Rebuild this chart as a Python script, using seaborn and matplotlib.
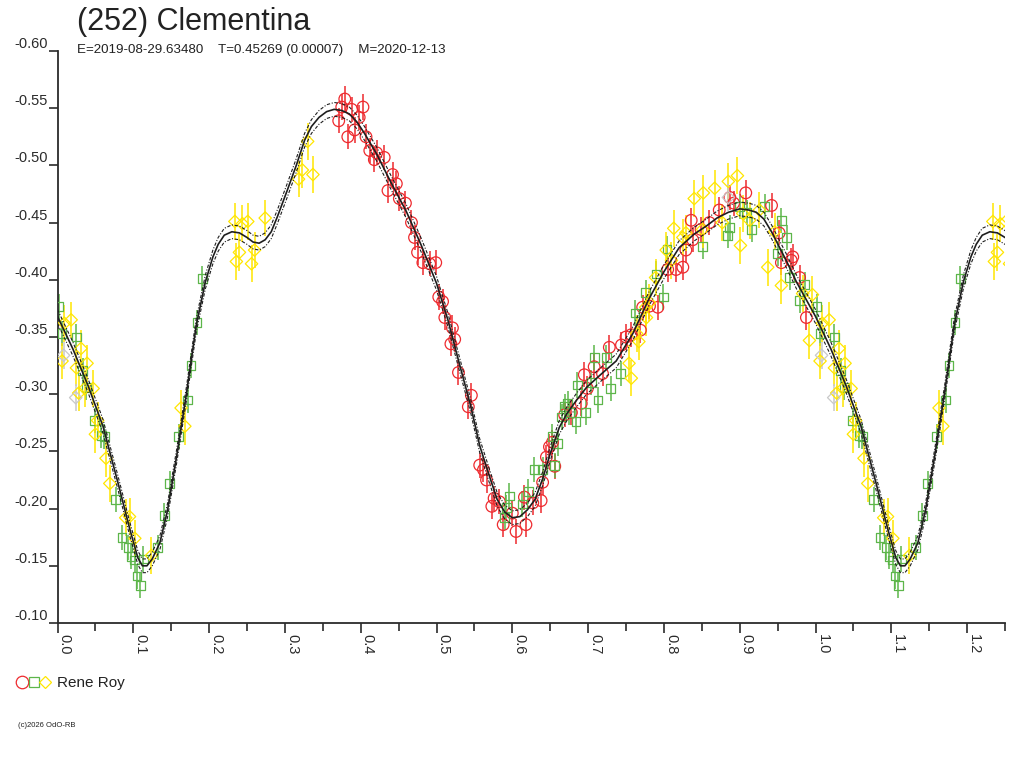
import numpy as np
import pandas as pd
import seaborn as sns
import matplotlib.pyplot as plt
from matplotlib.lines import Line2D
from matplotlib.legend_handler import HandlerTuple

titulo = "(252) Clementina"
subtitulo = "E=2019-08-29.63480    T=0.45269 (0.00007)    M=2020-12-13"
observador = "Rene Roy"
copyright_txt = "(c)2026 OdO-RB"

# curva de Fourier ajustada (fase 0..1)
fit_fase = [0.000, 0.020, 0.040, 0.060, 0.080, 0.095, 0.106, 0.112, 0.118, 0.125,
            0.135, 0.145, 0.157, 0.170, 0.183, 0.195, 0.205, 0.212, 0.220, 0.230,
            0.240, 0.250, 0.258, 0.266, 0.274, 0.282, 0.290, 0.303, 0.315, 0.326,
            0.335, 0.345, 0.355, 0.365, 0.375, 0.385, 0.395, 0.405, 0.421, 0.440,
            0.460, 0.480, 0.500, 0.515, 0.528, 0.545, 0.557, 0.570, 0.580, 0.590,
            0.600, 0.610, 0.620, 0.630, 0.640, 0.650, 0.662, 0.672, 0.685, 0.698,
            0.718, 0.737, 0.759, 0.780, 0.800, 0.820, 0.840, 0.856, 0.870, 0.885,
            0.900, 0.912, 0.922, 0.932, 0.942, 0.952, 0.962, 0.975, 0.990]
fit_mag = [-0.368, -0.340, -0.308, -0.272, -0.222, -0.183, -0.157, -0.150, -0.150, -0.156,
           -0.170, -0.198, -0.245, -0.300, -0.360, -0.398, -0.420, -0.431, -0.439, -0.442,
           -0.441, -0.437, -0.433, -0.432, -0.435, -0.442, -0.455, -0.478, -0.500, -0.522,
           -0.534, -0.542, -0.547, -0.549, -0.548, -0.545, -0.538, -0.528, -0.510, -0.485,
           -0.460, -0.430, -0.397, -0.365, -0.332, -0.290, -0.255, -0.228, -0.208, -0.197,
           -0.192, -0.193, -0.199, -0.208, -0.226, -0.248, -0.271, -0.283, -0.295, -0.306,
           -0.318, -0.329, -0.353, -0.383, -0.407, -0.428, -0.440, -0.447, -0.454, -0.459,
           -0.462, -0.461, -0.459, -0.453, -0.442, -0.429, -0.416, -0.398, -0.380]
fit_sigma = 0.006

# sessoes (fase, magnitude)
red_fase = [0.379, 0.375, 0.388, 0.403, 0.371, 0.398, 0.383, 0.392, 0.407, 0.412,
            0.421, 0.418, 0.431, 0.442, 0.436, 0.447, 0.451, 0.459, 0.467, 0.471,
            0.475, 0.482, 0.491, 0.499, 0.503, 0.508, 0.511, 0.521, 0.524, 0.519,
            0.529, 0.546, 0.542, 0.557, 0.562, 0.566, 0.576, 0.573, 0.583, 0.588,
            0.600, 0.605, 0.616, 0.618, 0.627, 0.638, 0.640, 0.645, 0.649, 0.656,
            0.669, 0.653, 0.678, 0.691, 0.699, 0.695, 0.708, 0.719, 0.728, 0.744,
            0.750, 0.757, 0.769, 0.772, 0.781, 0.792, 0.805, 0.816, 0.825, 0.829,
            0.838, 0.849, 0.860, 0.836, 0.887, 0.908, 0.892, 0.873, 0.942, 0.952,
            0.955, 0.968, 0.979, 0.988, 0.970]
red_mag = [-0.558, -0.551, -0.549, -0.551, -0.539, -0.542, -0.525, -0.531, -0.525, -0.513,
           -0.511, -0.505, -0.507, -0.492, -0.478, -0.484, -0.471, -0.467, -0.450, -0.437,
           -0.424, -0.415, -0.414, -0.415, -0.385, -0.381, -0.367, -0.358, -0.348, -0.344,
           -0.319, -0.299, -0.289, -0.238, -0.234, -0.225, -0.209, -0.202, -0.206, -0.186,
           -0.196, -0.180, -0.210, -0.186, -0.205, -0.207, -0.223, -0.245, -0.254, -0.237,
           -0.282, -0.258, -0.284, -0.292, -0.305, -0.317, -0.324, -0.318, -0.341, -0.343,
           -0.350, -0.352, -0.356, -0.376, -0.377, -0.376, -0.409, -0.409, -0.411, -0.426,
           -0.435, -0.444, -0.450, -0.452, -0.472, -0.476, -0.467, -0.461, -0.465, -0.441,
           -0.415, -0.417, -0.402, -0.367, -0.420]
red_err = 0.011

green_fase = [0.002, 0.006, 0.025, 0.033, 0.038, 0.049, 0.058, 0.062, 0.077, 0.085,
              0.093, 0.097, 0.102, 0.113, 0.105, 0.109, 0.132, 0.141, 0.148, 0.160,
              0.172, 0.176, 0.184, 0.191, 0.596, 0.592, 0.590, 0.613, 0.621, 0.629,
              0.640, 0.653, 0.660, 0.665, 0.669, 0.673, 0.656, 0.675, 0.684, 0.686,
              0.697, 0.704, 0.708, 0.713, 0.730, 0.743, 0.724, 0.762, 0.776, 0.799,
              0.790, 0.804, 0.851, 0.887, 0.884, 0.916, 0.933, 0.955, 0.962, 0.950,
              0.966, 0.979, 0.986, 0.900, 0.909]
green_mag = [-0.377, -0.353, -0.350, -0.321, -0.306, -0.277, -0.264, -0.263, -0.208, -0.175,
             -0.166, -0.158, -0.155, -0.156, -0.141, -0.133, -0.166, -0.194, -0.222, -0.263,
             -0.295, -0.325, -0.363, -0.401, -0.211, -0.201, -0.192, -0.204, -0.215, -0.234,
             -0.234, -0.263, -0.257, -0.280, -0.289, -0.292, -0.238, -0.284, -0.276, -0.308,
             -0.284, -0.310, -0.332, -0.295, -0.305, -0.318, -0.332, -0.371, -0.389, -0.385,
             -0.405, -0.427, -0.429, -0.446, -0.439, -0.444, -0.464, -0.452, -0.437, -0.423,
             -0.402, -0.382, -0.396, -0.464, -0.459]
green_err = 0.011

yellow_fase = [0.009, 0.018, 0.006, 0.031, 0.025, 0.039, 0.028, 0.036, 0.047, 0.053,
               0.050, 0.064, 0.069, 0.090, 0.095, 0.102, 0.124, 0.163, 0.168, 0.234,
               0.244, 0.251, 0.240, 0.236, 0.256, 0.260, 0.274, 0.318, 0.323, 0.330,
               0.337, 0.757, 0.754, 0.767, 0.764, 0.777, 0.781, 0.789, 0.803, 0.813,
               0.829, 0.901, 0.776, 0.840, 0.852, 0.867, 0.885, 0.897, 0.913, 0.937,
               0.955, 0.946, 0.825, 0.810, 0.851, 0.877, 0.904, 0.926, 0.983, 0.996,
               0.992]
yellow_mag = [-0.362, -0.365, -0.329, -0.340, -0.323, -0.327, -0.301, -0.305, -0.305, -0.277,
              -0.265, -0.244, -0.222, -0.192, -0.193, -0.174, -0.159, -0.288, -0.272, -0.451,
              -0.449, -0.451, -0.424, -0.416, -0.414, -0.426, -0.454, -0.488, -0.496, -0.521,
              -0.492, -0.314, -0.327, -0.346, -0.353, -0.367, -0.380, -0.402, -0.426, -0.445,
              -0.441, -0.430, -0.376, -0.471, -0.476, -0.480, -0.486, -0.491, -0.452, -0.411,
              -0.395, -0.442, -0.437, -0.417, -0.444, -0.450, -0.458, -0.461, -0.388, -0.387,
              -0.347]
yellow_err = 0.016

gray_fase = [0.024, 0.008, 0.885]
gray_mag = [-0.297, -0.334, -0.472]
gray_err = 0.012

y_ticks = [-0.60, -0.55, -0.50, -0.45, -0.40, -0.35, -0.30, -0.25, -0.20, -0.15, -0.10]
x_ticks = [0.0, 0.1, 0.2, 0.3, 0.4, 0.5, 0.6, 0.7, 0.8, 0.9, 1.0, 1.1, 1.2]
x_minor = [0.05, 0.15, 0.25, 0.35, 0.45, 0.55, 0.65, 0.75, 0.85, 0.95, 1.05, 1.15, 1.25]

cor_red = '#ee2a2e'
cor_green = '#5db64a'
cor_yellow = '#ffe600'
cor_gray = '#c9c9c9'
cor_eixo = '#2b2b2b'


def dobra(fase, mag, limite=0.27):
    # repete o inicio do ciclo depois da fase 1
    f = np.array(fase)
    m = np.array(mag)
    sel = f < limite
    return pd.DataFrame({'fase': np.concatenate([f, f[sel] + 1.0]),
                         'mag': np.concatenate([m, m[sel]])})


sns.set_style('white')
plt.rcParams['font.family'] = ['Liberation Sans', 'DejaVu Sans']

fig = plt.figure(figsize=(10.24, 7.68), dpi=100)
ax = fig.add_axes([57.5 / 1024, 1 - 623 / 768, (1005 - 57.5) / 1024, (623 - 51) / 768])

series = [(red_fase, red_mag, red_err, cor_red, 'o', 70),
          (green_fase, green_mag, green_err, cor_green, 's', 40),
          (yellow_fase, yellow_mag, yellow_err, cor_yellow, 'D', 40),
          (gray_fase, gray_mag, gray_err, cor_gray, 'D', 40)]

for fase, mag, err, cor, mk, tam in series:
    df = dobra(fase, mag)
    ax.errorbar(df['fase'], df['mag'], yerr=err, fmt='none', ecolor=cor,
                elinewidth=1.1, capsize=0, zorder=2)
    sns.scatterplot(data=df, x='fase', y='mag', marker=mk, s=tam, facecolor='none',
                    edgecolor=cor, linewidth=0.9, ax=ax, zorder=3, legend=False)

fit = dobra(fit_fase, fit_mag, limite=0.3)
sns.lineplot(data=fit, x='fase', y='mag', color='#1e1e1e', linewidth=1.2, ax=ax,
             zorder=5, estimator=None)
ax.plot(fit['fase'], fit['mag'] - fit_sigma, color='#1e1e1e', linewidth=0.8,
        linestyle=(0, (3, 1.5, 1, 1.5)), zorder=5)
ax.plot(fit['fase'], fit['mag'] + fit_sigma, color='#1e1e1e', linewidth=0.8,
        linestyle=(0, (3, 1.5, 1, 1.5)), zorder=5)

ax.set_xlim(0, 1.25)
ax.set_ylim(-0.10, -0.60)
ax.set_xlabel('')
ax.set_ylabel('')

for lado in ['top', 'right']:
    ax.spines[lado].set_visible(False)
for lado in ['left', 'bottom']:
    ax.spines[lado].set_color(cor_eixo)
    ax.spines[lado].set_linewidth(1.3)

ax.set_yticks(y_ticks)
ax.set_yticklabels([f"{v:.2f}" for v in y_ticks], fontsize=10.5, color=cor_eixo, va='bottom')
ax.set_xticks(x_ticks)
ax.set_xticks(x_minor, minor=True)
ax.set_xticklabels([f"{v:.1f}" for v in x_ticks], fontsize=10.5, color=cor_eixo,
                   rotation=-90, ha='left', va='bottom', rotation_mode='anchor')
ax.tick_params(axis='y', which='major', direction='out', length=6.5, width=1.2,
               color=cor_eixo, pad=0.5, left=True)
ax.tick_params(axis='x', which='major', direction='out', length=7.5, width=1.2,
               color=cor_eixo, pad=0.5, bottom=True)
ax.tick_params(axis='x', which='minor', direction='out', length=6, width=1.2,
               color=cor_eixo, bottom=True)

fig.text(77 / 1024, 1 - 30 / 768, titulo, fontsize=22, color='#222222', va='baseline')
fig.text(77 / 1024, 1 - 53 / 768, subtitulo, fontsize=9.6, color='#222222', va='baseline')

h1 = Line2D([], [], marker='o', linestyle='none', markersize=9, markerfacecolor='none',
            markeredgecolor=cor_red, markeredgewidth=0.9)
h2 = Line2D([], [], marker='s', linestyle='none', markersize=6.5, markerfacecolor='none',
            markeredgecolor=cor_green, markeredgewidth=0.9)
h3 = Line2D([], [], marker='D', linestyle='none', markersize=6.5, markerfacecolor='none',
            markeredgecolor=cor_yellow, markeredgewidth=0.9)
fig.legend(handles=[(h1, h2, h3)], labels=[observador], loc='center left',
           bbox_to_anchor=(16 / 1024, 1 - 683 / 768), frameon=False, fontsize=11,
           handler_map={tuple: HandlerTuple(ndivide=None, pad=0.0)},
           handlelength=2.3, handletextpad=0.4, borderpad=0, borderaxespad=0,
           labelcolor='#222222')

fig.text(18 / 1024, 1 - 727 / 768, copyright_txt, fontsize=5.5, color='#222222', va='baseline')

fig.savefig('out.png', dpi=100)
